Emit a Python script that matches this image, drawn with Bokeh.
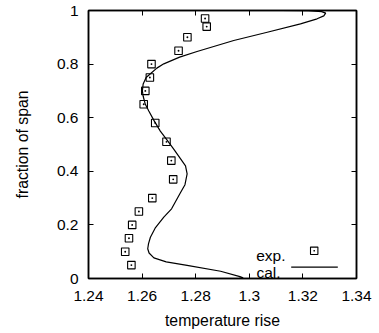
from bokeh.plotting import figure
from bokeh.models import (ColumnDataSource, FixedTicker, LinearAxis, Label,
                          BoxAnnotation, Range1d)
from bokeh.embed import file_html
from bokeh.resources import INLINE

# ---- data ----
exp_temp = [1.2560, 1.2537, 1.2551, 1.2563, 1.2588, 1.2638, 1.2716, 1.2709,
            1.2691, 1.2649, 1.2606, 1.2612, 1.2629, 1.2635, 1.2736, 1.2769,
            1.2841, 1.2835]
exp_span = [0.05, 0.10, 0.15, 0.20, 0.25, 0.30, 0.37, 0.44,
            0.51, 0.58, 0.65, 0.70, 0.75, 0.80, 0.85, 0.90,
            0.94, 0.97]

cal_temp = [1.2960, 1.2977, 1.2965, 1.2893, 1.2768, 1.2690, 1.2644, 1.2626,
            1.2621, 1.2624, 1.2631, 1.2650, 1.2681, 1.2710, 1.2743, 1.2760,
            1.2768, 1.2762, 1.2743, 1.2720, 1.2694, 1.2668, 1.2644, 1.2625,
            1.2612, 1.2604, 1.2601, 1.2604, 1.2615, 1.2631, 1.2655, 1.2681,
            1.2740, 1.2805, 1.2942, 1.3067, 1.3191, 1.3253, 1.3278, 1.3285,
            1.3270, 1.3220, 1.3120]
cal_span = [0.000, 0.003, 0.007, 0.027, 0.049, 0.062, 0.077, 0.095,
            0.111, 0.130, 0.154, 0.190, 0.229, 0.260, 0.320, 0.350,
            0.390, 0.420, 0.447, 0.480, 0.515, 0.550, 0.590, 0.625,
            0.650, 0.680, 0.700, 0.726, 0.750, 0.764, 0.785, 0.801,
            0.826, 0.847, 0.888, 0.919, 0.950, 0.969, 0.980, 0.990,
            0.996, 0.999, 1.000]

x_ticks = [1.24, 1.26, 1.28, 1.30, 1.32, 1.34]
x_tick_labels = ["1.24", "1.26", "1.28", "1.3", "1.32", "1.34"]
y_ticks = [0.0, 0.2, 0.4, 0.6, 0.8, 1.0]
y_tick_labels = ["0", "0.2", "0.4", "0.6", "0.8", "1"]

legend_labels = ["exp.", "cal."]
x_label = "temperature rise"
y_label = "fraction of span"

FONT = "Liberation Sans"
TICK_FS = "15.5px"
LAB_FS = "15.8px"

p = figure(width=379, height=333, output_backend="svg", toolbar_location=None,
           x_range=Range1d(1.24, 1.34), y_range=Range1d(0, 1),
           min_border_left=88, min_border_right=23, min_border_top=10,
           min_border_bottom=55)
p.background_fill_color = "white"
p.border_fill_color = "white"
p.grid.visible = False
p.outline_line_color = "black"
p.outline_line_width = 1.5


def style_axis(ax, ticks, labels=None):
    ax.ticker = FixedTicker(ticks=ticks)
    ax.minor_tick_line_color = None
    ax.major_tick_in = 5
    ax.major_tick_out = 0
    ax.major_tick_line_color = "black"
    ax.major_tick_line_width = 1
    ax.axis_line_color = "black"
    ax.axis_line_width = 1.5
    ax.major_label_text_font = FONT
    ax.major_label_text_font_size = TICK_FS
    ax.major_label_text_color = "black"
    ax.axis_label_text_font = FONT
    ax.axis_label_text_font_size = LAB_FS
    ax.axis_label_text_font_style = "normal"
    ax.axis_label_text_color = "black"
    if labels is not None:
        ax.major_label_overrides = {t: l for t, l in zip(ticks, labels)}


xa = p.xaxis[0]
style_axis(xa, x_ticks, x_tick_labels)
xa.axis_label = x_label
xa.major_label_standoff = 12
xa.axis_label_standoff = 8

ya = p.yaxis[0]
style_axis(ya, y_ticks, y_tick_labels)
ya.axis_label = y_label
ya.major_label_standoff = 10
ya.axis_label_standoff = 23

# mirrored ticks on top and right (no labels drawn)
top_ax = LinearAxis()
style_axis(top_ax, x_ticks)
top_ax.major_label_text_color = None
top_ax.major_label_text_font_size = "1px"
top_ax.major_label_standoff = 0
p.add_layout(top_ax, "above")

right_ax = LinearAxis()
style_axis(right_ax, y_ticks)
right_ax.major_label_text_color = None
right_ax.major_label_text_font_size = "1px"
right_ax.major_label_standoff = 0
p.add_layout(right_ax, "right")

cal_src = ColumnDataSource(dict(x=cal_temp, y=cal_span))
p.line("x", "y", source=cal_src, line_color="black", line_width=1.2)

exp_src = ColumnDataSource(dict(x=exp_temp, y=exp_span))
p.scatter("x", "y", source=exp_src, marker="square_dot", size=7.5,
          fill_color=None, line_color="black", line_width=1.1)

# ---- legend (text left of sample, like the original) ----
p.add_layout(Label(x=197, y=23, x_units="screen", y_units="screen",
                   text=legend_labels[0], text_align="right",
                   text_baseline="alphabetic", text_font=FONT,
                   text_font_size=TICK_FS, text_color="black"))
p.add_layout(Label(x=192, y=6.3, x_units="screen", y_units="screen",
                   text=legend_labels[1], text_align="right",
                   text_baseline="alphabetic", text_font=FONT,
                   text_font_size=TICK_FS, text_color="black"))
p.add_layout(BoxAnnotation(left=222, right=229.4, bottom=24, top=31.4,
                           left_units="screen", right_units="screen",
                           bottom_units="screen", top_units="screen",
                           fill_color=None, fill_alpha=0,
                           line_color="black", line_width=1.1, line_alpha=1))
p.add_layout(BoxAnnotation(left=225, right=226.4, bottom=27, top=28.4,
                           left_units="screen", right_units="screen",
                           bottom_units="screen", top_units="screen",
                           fill_color="black", fill_alpha=1,
                           line_color=None))
p.add_layout(BoxAnnotation(left=202.7, right=249.3, bottom=10.8, top=12.0,
                           left_units="screen", right_units="screen",
                           bottom_units="screen", top_units="screen",
                           fill_color="black", fill_alpha=1,
                           line_color=None))

open("out.html", "w").write(file_html(p, INLINE))
